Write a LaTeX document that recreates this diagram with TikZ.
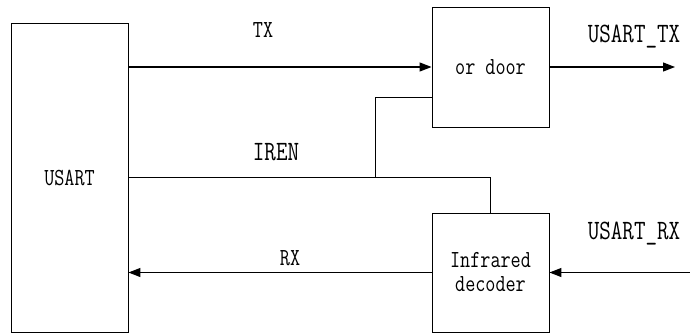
\documentclass[tikz,border=0pt]{standalone}
\usepackage{fontspec}
\newfontfamily\cf[FakeStretch=0.8]{Latin Modern Mono}
\usetikzlibrary{arrows.meta}
\begin{document}
\begin{tikzpicture}[x=1pt,y=-1pt,
  box/.style={draw=black,line width=0.9pt,inner sep=0pt,align=center,
    font=\cf\fontsize{24.5}{24}\selectfont},
  wire/.style={draw=black,line width=1.2pt},
  thinwire/.style={draw=black,line width=1pt},
  arr/.style={wire,-{Triangle[length=12pt,width=9pt]}},
  small/.style={inner sep=0pt,font=\cf\fontsize{24.5}{24}\selectfont},
  big/.style={inner sep=0pt,font=\cf\fontsize{28}{28}\selectfont}]
\useasboundingbox (0,0) rectangle (690,335);
\node[box,minimum width=117pt,minimum height=309pt] (usart) at (69.5,177.5) {USART};
\node[box,minimum width=117pt,minimum height=120pt] (ordoor) at (490.5,67) {or door};
\node[box,minimum width=117pt,minimum height=119pt] (decoder) at (490.5,272.5) {Infrared\\decoder};
\coordinate (txend) at (675,67);
\coordinate (rxstart) at (690,272.5);
\coordinate (junc) at (375,177.5);
\coordinate (orin) at (432,97);
\draw[arr] (usart.east |- ordoor.west) -- (ordoor.west);
\draw[arr] (ordoor.east) -- (txend);
\draw[arr] (decoder.west) -- (usart.east |- decoder.west);
\draw[arr] (rxstart) -- (decoder.east);
\draw[thinwire] (usart.east) -- (decoder.north |- usart.east) -- (decoder.north);
\draw[thinwire] (junc) -- (junc |- orin) -- (orin);
\node[small] (txl) at (263,30) {TX};
\node[big] (irenl) at (276,152) {IREN};
\node[small] (rxl) at (290,258) {RX};
\node[big] (utxl) at (634,37) {USART\_TX};
\node[big] (urxl) at (634,234) {USART\_RX};
\end{tikzpicture}
\end{document}
